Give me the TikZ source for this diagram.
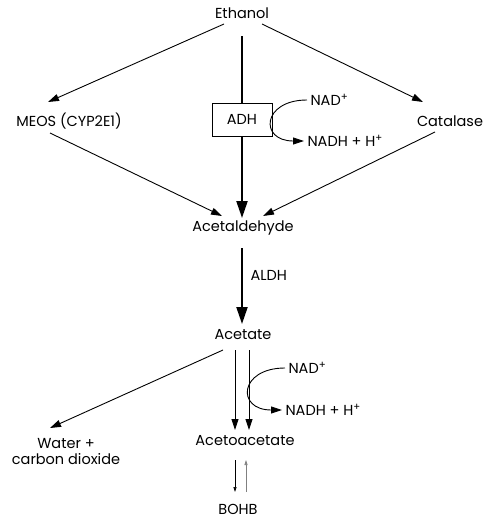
\documentclass[tikz,border=0pt]{standalone}
\usepackage{fontspec}
\setmainfont{Poppins}
\usetikzlibrary{arrows.meta}
\begin{document}
\begin{tikzpicture}[x=1pt, y=-1pt, font=\fontsize{14.5}{16}\selectfont,
    thin arrow/.style={-{Triangle[length=11pt,width=7pt]}, line width=0.9pt},
    thick arrow/.style={-{Triangle[length=17pt,width=11pt]}, line width=2.2pt},
    small arrow/.style={-{Triangle[length=5pt,width=3pt]}, line width=0.6pt},
    enzyme/.style={draw, line width=0.9pt, fill=white, minimum width=60pt, minimum height=33pt}]
    \useasboundingbox (0,0) rectangle (484,522) ;
    % substrates
    \node (ethanol) at (242, 13) {Ethanol} ;
    \node (meos) at (69, 121) {MEOS (CYP2E1)} ;
    \node (catalase) at (450, 121) {Catalase} ;
    \node (acetaldehyde) at (243, 228) {Acetaldehyde} ;
    \node (acetate) at (243, 335) {Acetate} ;
    \node[align=center] (water) at (66, 452) {Water +\\carbon dioxide} ;
    \node (acetoacetate) at (245, 441) {Acetoacetate} ;
    \node (bohb) at (238, 509) {BOHB} ;
    % cofactors
    \node[anchor=west] (nadA) at (307, 100) {NAD\textsuperscript{+}} ;
    \node[anchor=west] (nadhA) at (304, 141) {NADH + H\textsuperscript{+}} ;
    \node[anchor=west] (nadB) at (285, 368) {NAD\textsuperscript{+}} ;
    \node[anchor=west] (nadhB) at (282, 410) {NADH + H\textsuperscript{+}} ;
    \node[anchor=west] (aldh) at (247, 275) {ALDH} ;
    % ethanol pathways
    \draw[thin arrow] ([shift={(-18,11)}]ethanol.center) -- ([shift={(-21,-19)}]meos.center) ;
    \draw[thin arrow] ([shift={(20,11)}]ethanol.center) -- ([shift={(-27,-19)}]catalase.center) ;
    \node[enzyme] (adh) at (242, 119.5) {ADH} ;
    \draw[line width=2.2pt] ([shift={(0,23)}]ethanol.center) -- (adh.north) ;
    \draw[thick arrow] (adh.south) -- ([shift={(-1,-10)}]acetaldehyde.center) ;
    \draw[thin arrow] ([shift={(-19,12)}]meos.center) -- ([shift={(-21,-12)}]acetaldehyde.center) ;
    \draw[thin arrow] ([shift={(-15,11)}]catalase.center) -- ([shift={(20,-12)}]acetaldehyde.center) ;
    \draw[thin arrow] (nadA.west) to[out=180, in=180, looseness=2.8] (nadhA.west) ;
    % acetaldehyde onwards
    \draw[thick arrow] ([shift={(-1,20)}]acetaldehyde.center) -- ([shift={(-1,-11)}]acetate.center) ;
    \draw[thin arrow] ([shift={(-20,15)}]acetate.center) -- ([shift={(-16,-24)}]water.center) ;
    \draw[thin arrow] ([shift={(-8,15)}]acetate.center) -- ([shift={(-10,-11)}]acetoacetate.center) ;
    \draw[thin arrow] ([shift={(6,15)}]acetate.center) -- ([shift={(4,-11)}]acetoacetate.center) ;
    \draw[thin arrow] (nadB.west) to[out=180, in=180, looseness=2.8] (nadhB.west) ;
    \draw[small arrow] ([shift={(-10,19)}]acetoacetate.center) -- ([shift={(-3,-17)}]bohb.center) ;
    \draw[small arrow, gray] ([shift={(8,-17)}]bohb.center) -- ([shift={(1,19)}]acetoacetate.center) ;
  \end{tikzpicture}
\end{document}
